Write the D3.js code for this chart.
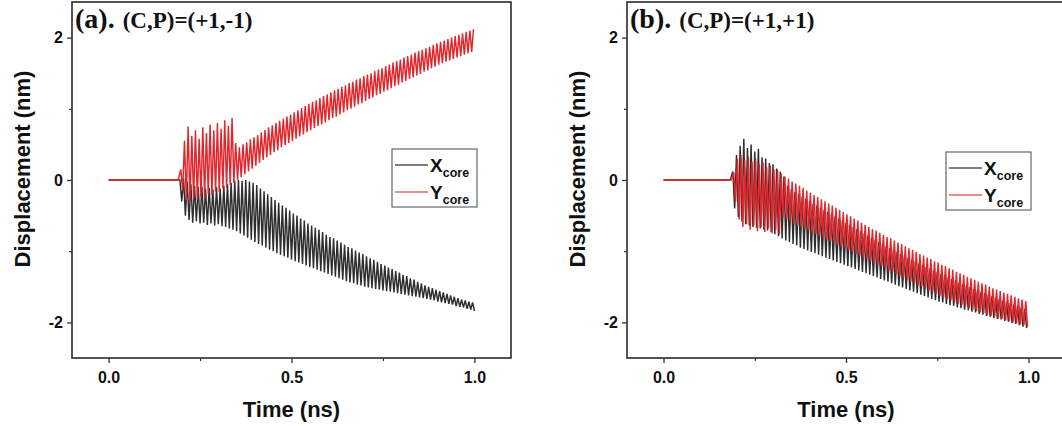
<!DOCTYPE html>
<html><head><meta charset="utf-8">
<script src="https://cdn.jsdelivr.net/npm/d3@7"></script>
<style>body{margin:0;background:#fff}svg{display:block}</style>
</head><body>
<script>
// ---------- DATA ----------
const xTickVals = [0, 0.5, 1.0];
const xTickLabels = ["0.0", "0.5", "1.0"];
const xMinorVals = [0.25, 0.75];
const yTickVals = [-2, 0, 2];
const yTickLabels = ["-2", "0", "2"];
const yMinorVals = [-1, 1];
const seriesNames = ["X", "Y"];
const panelTitles = ["(a).", "(b)."];
const panelSubtitles = ["(C,P)=(+1,-1)", "(C,P)=(+1,+1)"];
const cycle = 0.01; // ns between successive peaks (sampling grid of extremes)

// Panel (a) Xcore
const aXFlatEnd = 0.19;
const aXPeakT0 = 0.195;
const aXPeaks = [0.00,0.02,-0.02,-0.06,-0.08,-0.10,-0.09,-0.12,-0.11,-0.13,-0.10,-0.12,-0.08,-0.06,-0.04,-0.01,0.00,-0.01,0.00,-0.02,-0.04,-0.07,-0.12,-0.16,-0.20,-0.24,-0.28,-0.32,-0.36,-0.39,-0.43,-0.47,-0.50,-0.54,-0.57,-0.61,-0.64,-0.67,-0.70,-0.73,-0.77,-0.80,-0.82,-0.85,-0.88,-0.91,-0.94,-0.96,-0.99,-1.02,-1.04,-1.07,-1.10,-1.12,-1.15,-1.18,-1.20,-1.23,-1.25,-1.28,-1.30,-1.33,-1.35,-1.38,-1.40,-1.43,-1.45,-1.48,-1.50,-1.52,-1.54,-1.56,-1.58,-1.60,-1.62,-1.64,-1.66,-1.68,-1.69,-1.71,-1.72];
const aXTroughT0 = 0.200;
const aXTroughs = [-0.30,-0.50,-0.56,-0.60,-0.58,-0.61,-0.60,-0.63,-0.61,-0.64,-0.62,-0.65,-0.66,-0.68,-0.70,-0.72,-0.75,-0.78,-0.81,-0.84,-0.87,-0.90,-0.92,-0.95,-0.98,-1.00,-1.03,-1.05,-1.07,-1.09,-1.12,-1.14,-1.16,-1.18,-1.20,-1.22,-1.24,-1.26,-1.28,-1.30,-1.32,-1.34,-1.36,-1.38,-1.40,-1.42,-1.44,-1.45,-1.47,-1.48,-1.50,-1.51,-1.52,-1.53,-1.54,-1.55,-1.56,-1.57,-1.58,-1.59,-1.60,-1.61,-1.62,-1.63,-1.64,-1.65,-1.66,-1.67,-1.68,-1.69,-1.71,-1.72,-1.73,-1.74,-1.75,-1.77,-1.78,-1.79,-1.81,-1.82,-1.84];

// Panel (a) Ycore
const aYFlatEnd = 0.19;
const aYPeakT0 = 0.1975;
const aYPeaks = [0.15,0.55,0.75,0.62,0.70,0.58,0.74,0.66,0.78,0.70,0.80,0.72,0.84,0.76,0.87,0.52,0.46,0.50,0.53,0.57,0.60,0.63,0.67,0.70,0.74,0.77,0.80,0.83,0.86,0.89,0.92,0.95,0.98,1.01,1.04,1.07,1.10,1.12,1.15,1.18,1.20,1.23,1.26,1.28,1.31,1.33,1.36,1.38,1.41,1.43,1.46,1.48,1.50,1.53,1.55,1.57,1.60,1.62,1.65,1.67,1.69,1.72,1.74,1.76,1.79,1.81,1.83,1.85,1.87,1.90,1.92,1.94,1.96,1.98,2.00,2.02,2.04,2.06,2.08,2.10,2.12];
const aYTroughT0 = 0.2025;
const aYTroughs = [-0.15,-0.28,-0.30,-0.26,-0.28,-0.24,-0.25,-0.20,-0.21,-0.16,-0.17,-0.12,-0.11,-0.07,-0.04,0.00,0.04,0.08,0.12,0.16,0.20,0.24,0.28,0.32,0.35,0.39,0.42,0.46,0.49,0.52,0.55,0.58,0.61,0.64,0.67,0.70,0.73,0.76,0.78,0.81,0.84,0.87,0.89,0.92,0.95,0.98,1.00,1.03,1.06,1.08,1.11,1.14,1.16,1.19,1.21,1.24,1.26,1.29,1.32,1.34,1.37,1.39,1.42,1.44,1.47,1.49,1.52,1.54,1.57,1.59,1.62,1.64,1.66,1.68,1.70,1.72,1.74,1.76,1.78,1.80];

// Panel (b) Xcore
const bXFlatEnd = 0.183;
const bXPeakT0 = 0.19;
const bXPeaks = [0.12,0.35,0.48,0.58,0.45,0.50,0.40,0.44,0.32,0.30,0.24,0.22,0.16,0.12,0.05,-0.08,-0.13,-0.17,-0.20,-0.23,-0.26,-0.30,-0.33,-0.36,-0.39,-0.42,-0.45,-0.48,-0.51,-0.54,-0.57,-0.60,-0.63,-0.66,-0.69,-0.72,-0.75,-0.78,-0.81,-0.84,-0.87,-0.90,-0.93,-0.96,-0.98,-1.01,-1.04,-1.06,-1.09,-1.12,-1.14,-1.17,-1.19,-1.22,-1.24,-1.27,-1.29,-1.32,-1.34,-1.37,-1.39,-1.41,-1.44,-1.46,-1.48,-1.50,-1.53,-1.55,-1.57,-1.59,-1.61,-1.63,-1.65,-1.67,-1.69,-1.71,-1.73,-1.75,-1.77,-1.79,-1.81];
const bXTroughT0 = 0.195;
const bXTroughs = [-0.40,-0.52,-0.58,-0.62,-0.64,-0.66,-0.67,-0.68,-0.70,-0.71,-0.73,-0.76,-0.79,-0.82,-0.85,-0.87,-0.90,-0.92,-0.95,-0.97,-0.99,-1.01,-1.03,-1.05,-1.07,-1.09,-1.11,-1.13,-1.15,-1.17,-1.19,-1.21,-1.23,-1.25,-1.27,-1.29,-1.31,-1.33,-1.35,-1.37,-1.39,-1.41,-1.43,-1.45,-1.47,-1.49,-1.51,-1.53,-1.55,-1.57,-1.59,-1.61,-1.63,-1.65,-1.67,-1.69,-1.71,-1.72,-1.74,-1.76,-1.77,-1.79,-1.80,-1.82,-1.83,-1.85,-1.86,-1.88,-1.89,-1.91,-1.92,-1.94,-1.95,-1.96,-1.98,-1.99,-2.01,-2.02,-2.04,-2.06,-2.08];

// Panel (b) Ycore
const bYFlatEnd = 0.185;
const bYPeakT0 = 0.1925;
const bYPeaks = [0.10,0.30,0.35,0.28,0.33,0.26,0.30,0.22,0.25,0.18,0.20,0.15,0.14,0.09,0.05,0.02,-0.02,-0.05,-0.08,-0.11,-0.15,-0.18,-0.21,-0.24,-0.27,-0.30,-0.33,-0.36,-0.39,-0.42,-0.45,-0.48,-0.51,-0.54,-0.57,-0.60,-0.63,-0.66,-0.69,-0.71,-0.74,-0.77,-0.80,-0.82,-0.85,-0.88,-0.90,-0.93,-0.96,-0.98,-1.01,-1.04,-1.06,-1.09,-1.11,-1.14,-1.16,-1.19,-1.21,-1.24,-1.26,-1.29,-1.31,-1.33,-1.36,-1.38,-1.40,-1.43,-1.45,-1.47,-1.50,-1.52,-1.54,-1.56,-1.58,-1.60,-1.62,-1.64,-1.66,-1.68,-1.70];
const bYTroughT0 = 0.1975;
const bYTroughs = [-0.30,-0.55,-0.66,-0.62,-0.70,-0.64,-0.72,-0.66,-0.73,-0.68,-0.75,-0.70,-0.76,-0.52,-0.55,-0.58,-0.61,-0.64,-0.66,-0.69,-0.71,-0.74,-0.76,-0.79,-0.81,-0.84,-0.86,-0.89,-0.91,-0.94,-0.96,-0.99,-1.01,-1.04,-1.06,-1.09,-1.11,-1.14,-1.16,-1.19,-1.21,-1.24,-1.27,-1.29,-1.32,-1.35,-1.37,-1.40,-1.43,-1.45,-1.48,-1.50,-1.53,-1.55,-1.58,-1.60,-1.62,-1.65,-1.67,-1.69,-1.72,-1.74,-1.76,-1.78,-1.80,-1.82,-1.84,-1.86,-1.87,-1.89,-1.91,-1.92,-1.94,-1.95,-1.97,-1.98,-2.00,-2.01,-2.03,-2.04,-2.06];

// ---------- BUILD ----------
function buildSeries(flatEnd, pT0, peaks, tT0, troughs) {
  const pts = [[0, 0], [flatEnd, 0]];
  const ext = peaks.map((v, i) => [pT0 + i * cycle, v])
    .concat(troughs.map((v, i) => [tT0 + i * cycle, v]))
    .filter(d => d[0] <= 1.0005)
    .sort((a, b) => a[0] - b[0]);
  return pts.concat(ext);
}
const panels = [
  { left: 72, right: 511, title: panelTitles[0], sub: panelSubtitles[0],
    legend: { x: 392, y: 149, w: 85, h: 58 },
    series: [buildSeries(aXFlatEnd, aXPeakT0, aXPeaks, aXTroughT0, aXTroughs),
             buildSeries(aYFlatEnd, aYPeakT0, aYPeaks, aYTroughT0, aYTroughs)] },
  { left: 627, right: 1065, title: panelTitles[1], sub: panelSubtitles[1],
    legend: { x: 946, y: 152, w: 85, h: 58 },
    series: [buildSeries(bXFlatEnd, bXPeakT0, bXPeaks, bXTroughT0, bXTroughs),
             buildSeries(bYFlatEnd, bYPeakT0, bYPeaks, bYTroughT0, bYTroughs)] }
];
const colors = ["#2e2e2e", "#e3262b"];
const legendColors = ["#555555", "#e06666"];

const W = 1062, H = 426, plotTop = 2, plotBottom = 358;
const svg = d3.select("body").append("svg").attr("width", W).attr("height", H);
const sans = "'Liberation Sans', Arial, sans-serif";
const serif = "'Liberation Serif', 'Times New Roman', serif";

panels.forEach((p, pi) => {
  const x = d3.scaleLinear().domain([-0.1, 1.1]).range([p.left, p.right]);
  const y = d3.scaleLinear().domain([-2.5, 2.5]).range([plotBottom, plotTop]);
  const g = svg.append("g");
  const clipId = "clip" + pi;
  svg.append("clipPath").attr("id", clipId).append("rect")
    .attr("x", p.left).attr("y", plotTop).attr("width", p.right - p.left).attr("height", plotBottom - plotTop);

  const line = d3.line().x(d => x(d[0])).y(d => y(d[1]));
  const lines = g.append("g").attr("clip-path", `url(#${clipId})`);
  p.series.forEach((s, si) => {
    lines.append("path").datum(s).attr("d", line)
      .attr("fill", "none").attr("stroke", colors[si]).attr("stroke-width", 1.45)
      .attr("stroke-linejoin", "miter");
  });

  // frame
  g.append("rect").attr("x", p.left).attr("y", plotTop).attr("width", p.right - p.left)
    .attr("height", plotBottom - plotTop).attr("fill", "none").attr("stroke", "#2a2a2a").attr("stroke-width", 1.6);

  // x axis
  const xAxis = d3.axisBottom(x).tickValues(xTickVals).tickFormat((d, i) => xTickLabels[i]).tickSize(5).tickSizeOuter(0);
  const xa = g.append("g").attr("transform", `translate(0,${plotBottom})`).call(xAxis);
  xa.select(".domain").remove();
  xa.selectAll("line").attr("stroke", "#333").attr("stroke-width", 1.3);
  xa.selectAll("text").attr("font-family", sans).attr("font-weight", "bold").attr("font-size", 16).attr("fill", "#111").attr("dy", "1.05em");
  const xMinor = d3.axisBottom(x).tickValues(xMinorVals).tickFormat("").tickSize(3).tickSizeOuter(0);
  const xm = g.append("g").attr("transform", `translate(0,${plotBottom})`).call(xMinor);
  xm.select(".domain").remove();
  xm.selectAll("line").attr("stroke", "#333").attr("stroke-width", 1.2);

  // y axis
  const yAxis = d3.axisLeft(y).tickValues(yTickVals).tickFormat((d, i) => yTickLabels[i]).tickSize(5).tickSizeOuter(0);
  const ya = g.append("g").attr("transform", `translate(${p.left},0)`).call(yAxis);
  ya.select(".domain").remove();
  ya.selectAll("line").attr("stroke", "#333").attr("stroke-width", 1.3);
  ya.selectAll("text").attr("font-family", sans).attr("font-weight", "bold").attr("font-size", 16).attr("fill", "#111").attr("x", -9);
  const yMinor = d3.axisLeft(y).tickValues(yMinorVals).tickFormat("").tickSize(3).tickSizeOuter(0);
  const ym = g.append("g").attr("transform", `translate(${p.left},0)`).call(yMinor);
  ym.select(".domain").remove();
  ym.selectAll("line").attr("stroke", "#333").attr("stroke-width", 1.2);

  // axis titles
  g.append("text").attr("x", x(0.5)).attr("y", 417).attr("text-anchor", "middle")
    .attr("font-family", sans).attr("font-weight", "bold").attr("font-size", 22).attr("fill", "#111").text("Time (ns)");
  g.append("text").attr("transform", `translate(${p.left - 42},${169}) rotate(-90)`).attr("text-anchor", "middle")
    .attr("font-family", sans).attr("font-weight", "bold").attr("font-size", 22).attr("fill", "#111").text("Displacement (nm)");

  // panel title
  const t = g.append("text").attr("x", p.left + 3).attr("y", 28).attr("font-family", serif).attr("font-weight", "bold").attr("fill", "#111");
  t.append("tspan").attr("font-size", 28).text(p.title);
  t.append("tspan").attr("font-size", 23).attr("dx", 8).text(p.sub);

  // legend
  const L = p.legend;
  const lg = g.append("g");
  lg.append("rect").attr("x", L.x).attr("y", L.y).attr("width", L.w).attr("height", L.h)
    .attr("fill", "#fff").attr("stroke", "#666").attr("stroke-width", 1.2);
  seriesNames.forEach((n, i) => {
    const ly = L.y + 16 + i * 27;
    lg.append("line").attr("x1", L.x + 3).attr("x2", L.x + 36).attr("y1", ly).attr("y2", ly)
      .attr("stroke", legendColors[i]).attr("stroke-width", 1.4);
    const tx = lg.append("text").attr("x", L.x + 38).attr("y", ly + 7).attr("font-family", sans)
      .attr("font-weight", "bold").attr("fill", "#111");
    tx.append("tspan").attr("font-size", 19).text(n);
    tx.append("tspan").attr("font-size", 12.5).attr("dy", 5).text("core");
  });
});
</script>
</body></html>
